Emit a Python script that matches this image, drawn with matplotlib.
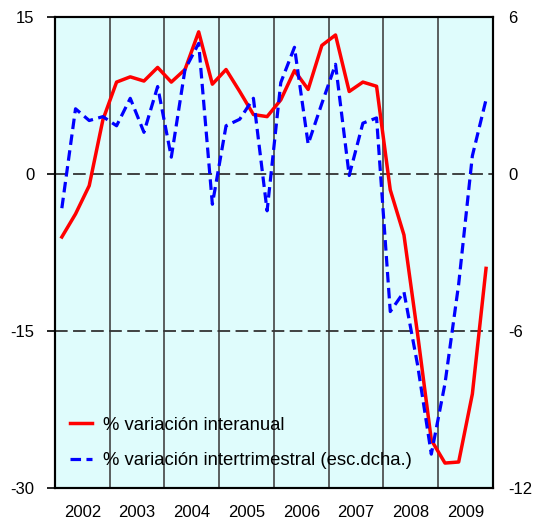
import matplotlib
matplotlib.use("Agg")
import matplotlib.pyplot as plt
import numpy as np

plt.rcParams['font.family'] = ['Liberation Sans', 'DejaVu Sans']

# Datos trimestrales 2002-2009
years = ['2002', '2003', '2004', '2005', '2006', '2007', '2008', '2009']
interanual = [-6.0, -3.8, -1.1, 5.2, 8.8, 9.3, 8.9, 10.2,
              8.8, 10.0, 13.6, 8.6, 10.0, 7.9, 5.7, 5.5,
              7.1, 9.9, 8.1, 12.3, 13.3, 7.9, 8.8, 8.4,
              -1.5, -5.8, -15.3, -25.4, -27.6, -27.5, -21.0, -9.0]
intertrim = [-1.3, 2.5, 2.05, 2.2, 1.85, 2.9, 1.6, 3.35,
             0.65, 4.0, 5.0, -1.15, 1.85, 2.1, 2.9, -1.4,
             3.5, 4.85, 1.15, 2.7, 4.2, -0.05, 1.95, 2.15,
             -5.25, -4.5, -7.3, -10.7, -8.0, -4.2, 0.7, 2.85]

lbl_red = '% variación interanual'
lbl_blue = '% variación intertrimestral (esc.dcha.)'

x = np.arange(len(interanual)) + 0.5

fig = plt.figure(figsize=(5.34, 5.21), dpi=100)
ax = fig.add_axes([0.103, 0.063, 0.82, 0.904])
ax.set_facecolor('#dffcfc')
ax2 = ax.twinx()

ax.set_xlim(0, 32)
ax.set_ylim(-30, 15)
ax2.set_ylim(-12, 6)

# separadores de año
for k in range(1, len(years)):
    ax.axvline(4 * k, color='#444444', lw=1.2, zorder=1)
for yv in [0, -15]:
    ax.axhline(yv, color='#333333', lw=1.3, ls=(0, (7, 3)), zorder=1)

l1, = ax.plot(x, interanual, color='#ff0000', lw=2.5, zorder=3)
l2, = ax2.plot(x, intertrim, color='#0000ff', lw=2.3, ls=(0, (3.3, 1.7)), zorder=3)

ax.set_xticks(np.arange(len(years)) * 4 + 2)
ax.set_xticklabels(years, fontsize=12)
ax.tick_params(axis='x', length=0, pad=12)
ax.set_yticks([15, 0, -15, -30])
ax.set_yticklabels(['15', '0', '-15', '-30'], fontsize=12)
ax.tick_params(axis='y', length=6, width=1.2, direction='out', pad=9)
ax2.set_yticks([6, 0, -6, -12])
ax2.set_yticklabels(['6', '0', '-6', '-12'], fontsize=12)
ax2.tick_params(axis='y', length=0, pad=11)

for a in (ax, ax2):
    for s in a.spines.values():
        s.set_linewidth(1.5)
        s.set_color('black')

ax.legend([l1, l2], [lbl_red, lbl_blue], loc='lower left',
          bbox_to_anchor=(0.035, 0.04), frameon=False, fontsize=13.3,
          handlelength=1.2, handletextpad=0.55, labelspacing=1.0,
          borderaxespad=0, borderpad=0)

fig.savefig('out.png', dpi=100)
